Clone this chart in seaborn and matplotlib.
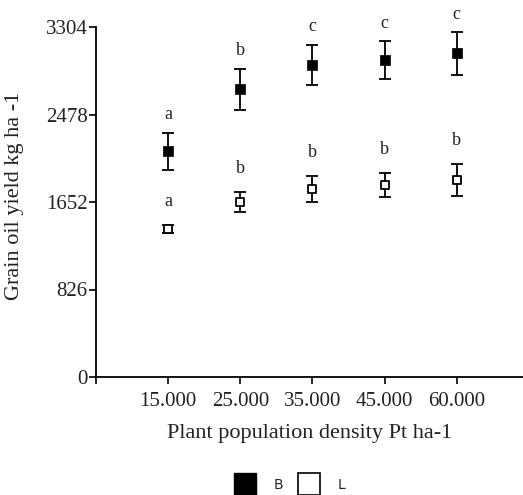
import matplotlib
matplotlib.use("Agg")
import matplotlib.pyplot as plt
import seaborn as sns
import pandas as pd
import numpy as np
from matplotlib.lines import Line2D

densities = ["15.000", "25.000", "35.000", "45.000", "60.000"]
b_mean = [2130, 2715, 2945, 2990, 3055]
b_err = [175, 195, 190, 180, 200]
b_letters = ["a", "b", "c", "c", "c"]
l_mean = [1395, 1652, 1775, 1810, 1860]
l_err = [40, 95, 125, 115, 150]
l_letters = ["a", "b", "b", "b", "b"]
y_ticks = [0, 826, 1652, 2478, 3304]

sns.set_style("ticks")
plt.rcParams["font.family"] = ["Liberation Serif", "DejaVu Serif"]

pos = np.arange(1, len(densities) + 1)
df = pd.DataFrame({
    "pos": np.concatenate([pos, pos]),
    "yield": b_mean + l_mean,
    "err": b_err + l_err,
    "grp": ["B"] * len(pos) + ["L"] * len(pos),
})

fig = plt.figure(figsize=(5.23, 4.95), dpi=100)
ax = fig.add_axes([96 / 523, 1 - 377 / 495, 1 - 96 / 523, (377 - 27) / 495])

for g, sub in df.groupby("grp"):
    ax.errorbar(sub["pos"], sub["yield"], yerr=sub["err"], fmt="none",
                ecolor="black", elinewidth=1.3, capsize=4, capthick=1.3, zorder=2)

sns.scatterplot(data=df[df.grp == "B"], x="pos", y="yield", marker="s", s=55,
                color="black", edgecolor="black", linewidth=0.5, ax=ax, zorder=3, legend=False)
sns.scatterplot(data=df[df.grp == "L"], x="pos", y="yield", marker="s", s=36,
                color="white", edgecolor="black", linewidth=1.3, ax=ax, zorder=3, legend=False)

for p, m, e, t in zip(pos, b_mean, b_err, b_letters):
    ax.annotate(t, (p, m + e), xytext=(0, 13), textcoords="offset points",
                ha="center", va="center", fontsize=13, color="#222222")
for p, m, e, t in zip(pos, l_mean, l_err, l_letters):
    ax.annotate(t, (p, m + e), xytext=(0, 17), textcoords="offset points",
                ha="center", va="center", fontsize=13, color="#222222")

ax.set_xlim(0, 5.92)
ax.set_ylim(0, 3304)
ax.set_yticks(y_ticks)
ax.set_yticklabels([str(v) for v in y_ticks])
ax.set_xticks(np.arange(0, len(densities) + 1))
ax.set_xticklabels([""] + densities)
ax.tick_params(axis="both", direction="out", length=5, width=1.2, colors="black",
               labelsize=15, labelcolor="#222222")
ax.tick_params(axis="x", pad=6)
ax.tick_params(axis="y", pad=1)
for s in ["top", "right"]:
    ax.spines[s].set_visible(False)
for s in ["left", "bottom"]:
    ax.spines[s].set_linewidth(1.3)
    ax.spines[s].set_color("black")

ax.set_xlabel("Plant population density Pt ha-1", fontsize=16, color="#222222", labelpad=9)
ax.set_ylabel("Grain oil yield kg ha -1", fontsize=16, color="#222222")
ax.yaxis.set_label_coords(-0.168, 0.517)

handles = [
    Line2D([], [], marker="s", linestyle="none", markersize=16, markerfacecolor="black",
           markeredgecolor="black"),
    Line2D([], [], marker="s", linestyle="none", markersize=16, markerfacecolor="white",
           markeredgecolor="black", markeredgewidth=1.2),
]
fig.legend(handles, ["B", "L"], loc="center", bbox_to_anchor=(291 / 523, 1 - 485 / 495),
           ncol=2, frameon=False, handlelength=1.2, handletextpad=1.45, columnspacing=1.3,
           prop={"family": "DejaVu Sans", "size": 10})

fig.savefig("out.png", dpi=100)
